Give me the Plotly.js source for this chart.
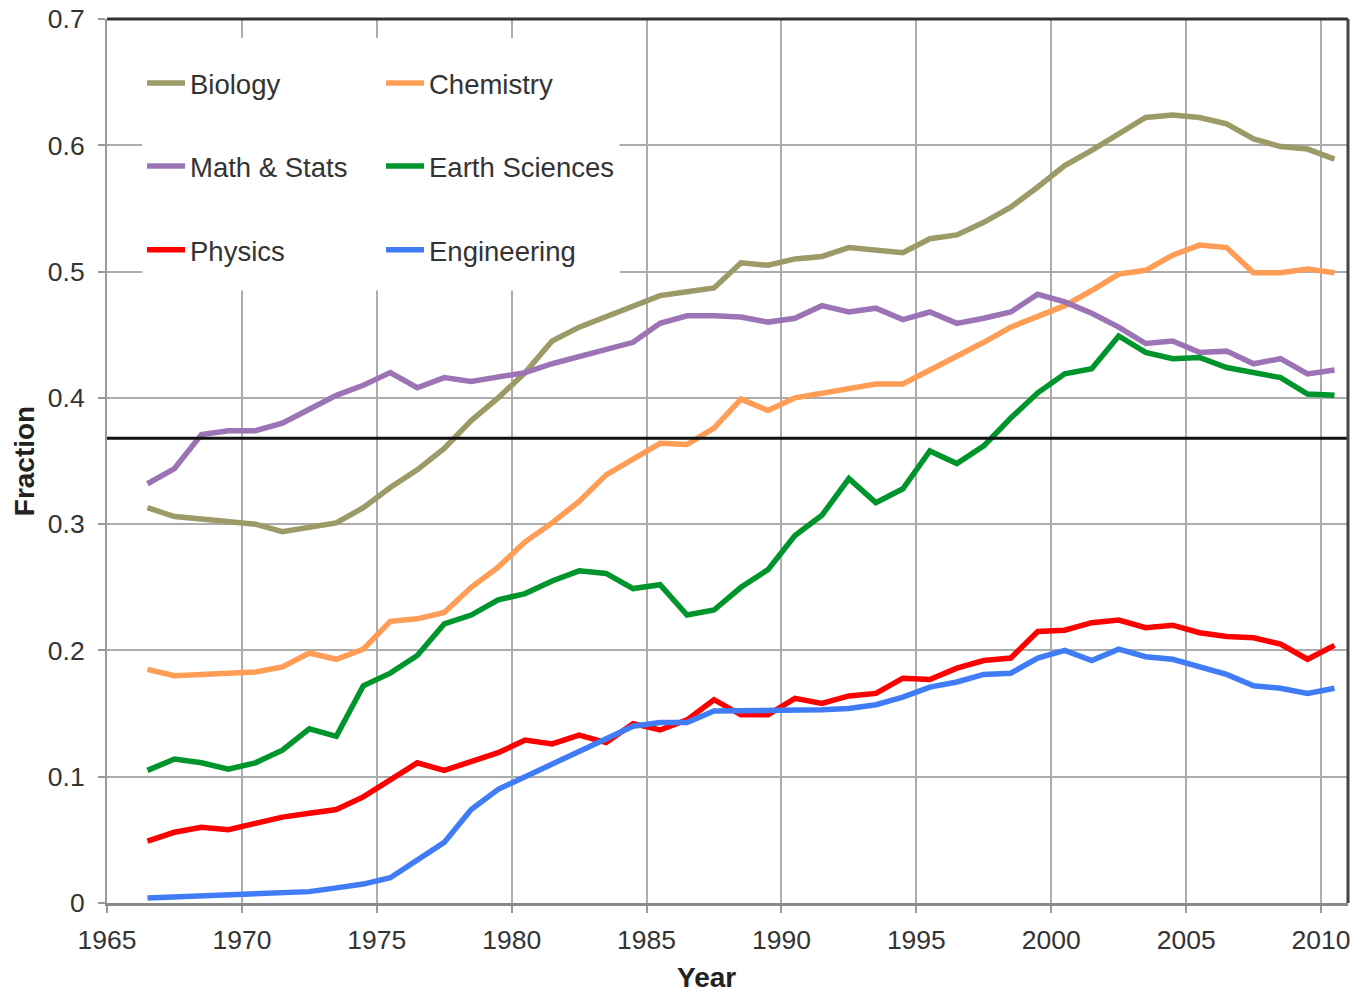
<!DOCTYPE html>
<html>
<head>
<meta charset="utf-8">
<script src="https://cdn.plot.ly/plotly-3.0.1.min.js"></script>
<style>
html,body{margin:0;padding:0;background:#ffffff;}
#chart{width:1369px;height:992px;}
</style>
</head>
<body>
<div id="chart"></div>
<script>
// ---- data ----
const years = [1966,1967,1968,1969,1970,1971,1972,1973,1974,1975,
               1976,1977,1978,1979,1980,1981,1982,1983,1984,1985,
               1986,1987,1988,1989,1990,1991,1992,1993,1994,1995,
               1996,1997,1998,1999,2000,2001,2002,2003,2004,2005,
               2006,2007,2008,2009,2010];

const biology = [0.313,0.306,0.304,0.302,0.300,0.294,0.297,0.301,0.313,0.329,
                 0.343,0.360,0.382,0.400,0.420,0.445,0.456,0.464,0.472,0.481,
                 0.484,0.487,0.507,0.505,0.510,0.512,0.519,0.517,0.515,0.526,
                 0.529,0.539,0.551,0.567,0.584,0.596,0.609,0.622,0.624,0.622,
                 0.617,0.605,0.599,0.597,0.589];

const chemistry = [0.185,0.180,0.181,0.182,0.183,0.187,0.198,0.193,0.201,0.223,
                   0.225,0.230,0.250,0.266,0.286,0.301,0.318,0.339,0.351,0.364,
                   0.363,0.376,0.399,0.390,0.400,0.404,0.407,0.411,0.411,0.422,
                   0.432,0.444,0.456,0.464,0.473,0.485,0.498,0.501,0.513,0.521,
                   0.519,0.499,0.499,0.502,0.499];

const mathStats = [0.332,0.344,0.371,0.374,0.374,0.380,0.391,0.402,0.410,0.420,
                   0.408,0.416,0.413,0.417,0.420,0.427,0.433,0.438,0.444,0.459,
                   0.465,0.465,0.464,0.460,0.463,0.473,0.468,0.471,0.462,0.468,
                   0.459,0.463,0.468,0.482,0.476,0.467,0.456,0.443,0.445,0.436,
                   0.437,0.427,0.431,0.419,0.422];

const earthSciences = [0.105,0.114,0.111,0.106,0.111,0.121,0.138,0.132,0.172,0.182,
                       0.196,0.221,0.228,0.240,0.245,0.255,0.263,0.261,0.249,0.252,
                       0.228,0.232,0.250,0.264,0.291,0.307,0.336,0.317,0.328,0.358,
                       0.348,0.362,0.384,0.404,0.419,0.423,0.449,0.436,0.431,0.432,
                       0.424,0.420,0.416,0.403,0.402];

const physics = [0.049,0.056,0.060,0.058,0.063,0.068,0.071,0.074,0.084,0.097,
                 0.111,0.105,0.112,0.119,0.129,0.126,0.133,0.127,0.142,0.137,
                 0.145,0.161,0.149,0.149,0.162,0.158,0.164,0.166,0.178,0.177,
                 0.186,0.192,0.194,0.215,0.216,0.222,0.224,0.218,0.220,0.214,
                 0.211,0.210,0.205,0.193,0.204];

const engineering = [0.004,0.005,0.006,0.007,0.008,0.008,0.009,0.012,0.015,0.020,
                     0.034,0.048,0.074,0.090,0.100,0.110,0.120,0.130,0.140,0.143,
                     0.143,0.152,0.152,0.152,0.152,0.153,0.154,0.157,0.163,0.171,
                     0.175,0.181,0.182,0.194,0.200,0.192,0.201,0.195,0.193,0.187,
                     0.181,0.172,0.170,0.166,0.170];

const seriesNames = ['Biology','Chemistry','Math & Stats','Earth Sciences','Physics','Engineering'];
const xTickVals = [1965,1970,1975,1980,1985,1990,1995,2000,2005,2010];
const yTickVals = [0,0.1,0.2,0.3,0.4,0.5,0.6,0.7];
const yTickText = ['0','0.1','0.2','0.3','0.4','0.5','0.6','0.7'];
const xTitle = 'Year';
const yTitle = 'Fraction';
const referenceLevel = 0.368;   // horizontal black reference line

// ---- styling ----
const seriesValues = [biology, chemistry, mathStats, earthSciences, physics, engineering];
const seriesColors = ['#9c9a66','#ff9c55','#9c74b6','#00952c','#ff0000','#3f7cf6'];
const legendIds = ['legend','legend2','legend3','legend4','legend5','legend6'];
// each annual value is plotted at mid-year
const xPos = years.map(y => y + 0.5);

const FONT = 'Liberation Sans, Arial, Helvetica, sans-serif';

const traces = seriesValues.map((vals, i) => ({
  type: 'scatter',
  mode: 'lines',
  name: seriesNames[i],
  x: xPos,
  y: vals,
  line: {color: seriesColors[i], width: 5.5},
  legend: legendIds[i],
  hoverinfo: 'x+y+name'
}));

function legendAt(col, row) {
  const colX = [0.0282, 0.2208];
  const rowY = [0.9276, 0.8337, 0.7387];
  return {
    x: colX[col], y: rowY[row], xanchor: 'left', yanchor: 'middle',
    bgcolor: 'rgba(0,0,0,0)', borderwidth: 0, itemwidth: 38,
    font: {family: FONT, size: 27.5, color: '#333'}
  };
}

const layout = {
  width: 1369, height: 992,
  margin: {l: 107, r: 21, t: 19, b: 89, pad: 0},
  paper_bgcolor: '#ffffff', plot_bgcolor: '#ffffff',
  font: {family: FONT, size: 26, color: '#333'},
  showlegend: true,
  legend: legendAt(0, 0),
  legend2: legendAt(1, 0),
  legend3: legendAt(0, 1),
  legend4: legendAt(1, 1),
  legend5: legendAt(0, 2),
  legend6: legendAt(1, 2),
  xaxis: {
    range: [1965, 2011], tickmode: 'array', tickvals: xTickVals,
    ticktext: xTickVals.map(String),
    showgrid: true, gridcolor: '#acacac', gridwidth: 2,
    showline: true, linecolor: '#8a8a8a', linewidth: 2.5,
    ticks: 'outside', ticklen: 7, tickwidth: 2, tickcolor: '#9a9a9a',
    ticklabelstandoff: 5,
    zeroline: false, fixedrange: true,
    tickfont: {family: FONT, size: 26.5, color: '#333'}
  },
  yaxis: {
    range: [0, 0.7], tickmode: 'array', tickvals: yTickVals, ticktext: yTickText,
    showgrid: true, gridcolor: '#acacac', gridwidth: 2,
    showline: true, linecolor: '#9a9a9a', linewidth: 2,
    ticks: 'outside', ticklen: 7, tickwidth: 2, tickcolor: '#9a9a9a',
    ticklabelstandoff: 8,
    zeroline: false, fixedrange: true,
    tickfont: {family: FONT, size: 26.5, color: '#333'},
    title: {text: '<b>' + yTitle + '</b>', font: {family: FONT, size: 28, color: '#222'}, standoff: 5}
  },
  annotations: [
    {text: '<b>' + xTitle + '</b>', xref: 'paper', yref: 'paper', x: 0.483, y: -0.084,
     xanchor: 'center', yanchor: 'middle', showarrow: false,
     font: {family: FONT, size: 28, color: '#222'}}
  ],
  shapes: [
    // white legend panel covering the grid
    {type: 'rect', xref: 'x', yref: 'y', x0: 1966.3, x1: 1984.0, y0: 0.485, y1: 0.685,
     fillcolor: '#ffffff', line: {width: 0}, layer: 'above'},
    // reference line
    {type: 'line', xref: 'paper', yref: 'y', x0: 0, x1: 1, y0: referenceLevel, y1: referenceLevel,
     line: {color: '#111111', width: 3}, layer: 'above'},
    // top and right frame
    {type: 'line', xref: 'paper', yref: 'paper', x0: 0, x1: 1, y0: 1, y1: 1,
     line: {color: '#333333', width: 3}, layer: 'above'},
    {type: 'line', xref: 'paper', yref: 'paper', x0: 1, x1: 1, y0: 0, y1: 1,
     line: {color: '#444444', width: 3}, layer: 'above'}
  ]
};

Plotly.newPlot('chart', traces, layout, {displayModeBar: false, staticPlot: true});
</script>
</body>
</html>
